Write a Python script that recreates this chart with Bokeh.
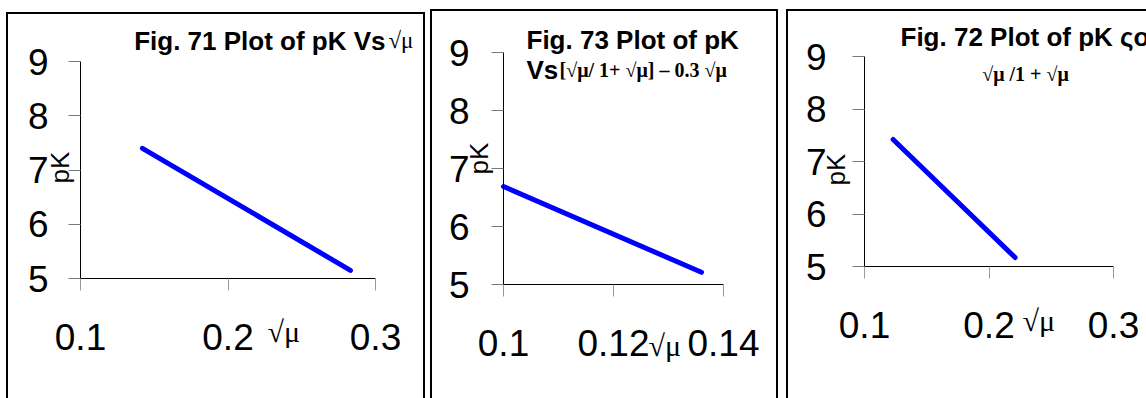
import math
from bokeh.plotting import figure
from bokeh.layouts import row
from bokeh.models import Range1d, Label, FixedTicker
from bokeh.embed import file_html
from bokeh.resources import INLINE

# ---------------- data ----------------
fig71_sqrt_mu = [0.142, 0.283]
fig71_pk = [7.40, 5.15]

fig73_x = [0.100, 0.136]
fig73_pk = [6.69, 5.21]

fig72_x = [0.123, 0.221]
fig72_pk = [7.42, 5.17]

y_ticks = [5, 6, 7, 8, 9]
x_ticks_71 = [0.1, 0.2, 0.3]
x_tick_labels_71 = ["0.1", "0.2", "0.3"]
x_ticks_73 = [0.1, 0.12, 0.14]
x_tick_labels_73 = ["0.1", "0.12", "0.14"]
x_ticks_72 = [0.1, 0.2, 0.3]
x_tick_labels_72 = ["0.1", "0.2", "0.3"]

title_71 = ["Fig. 71 Plot of pK Vs", "\u221a\u03bc"]
title_73 = ["Fig. 73 Plot of pK", "Vs", "[\u221a\u03bc/ 1+ \u221a\u03bc] \u2013 0.3 \u221a\u03bc"]
title_72 = ["Fig. 72 Plot of pK \u03c2\u03bf", "\u221a\u03bc /1 + \u221a\u03bc"]
y_label = "pK"
x_label = "\u221a\u03bc"

SANS = "Liberation Sans"
SERIF = "Liberation Serif"
BASE_SHIFT = 9  # correction for alphabetic baseline placement


def make_panel(geom, xs, ys, xticks, xtick_labels, xr, yr, texts, shadow, ystand):
    # geom: page origin x, y, width, height, axis-box left, right, top, bottom (page px)
    ox, oy, w, h, fl, fr, ft, fb = geom
    kx = (xr[1] - xr[0]) / (fr - fl)
    ky = (yr[1] - yr[0]) / (fb - ft)
    x0 = xr[0] - (fl - ox) * kx
    x1 = xr[1] + (ox + w - fr) * kx
    y1 = yr[1] + (ft - oy) * ky
    y0 = yr[0] - (oy + h - fb) * ky

    p = figure(width=w, height=h, output_backend="svg", toolbar_location=None,
               x_range=Range1d(x0, x1), y_range=Range1d(y0, y1),
               min_border=0, min_border_left=0, min_border_right=0,
               min_border_top=0, min_border_bottom=0,
               background_fill_alpha=0, border_fill_alpha=0,
               outline_line_color=None, frame_align=False)
    p.grid.visible = False

    p.xaxis.ticker = FixedTicker(ticks=xticks)
    p.xaxis.major_label_overrides = {t: s for t, s in zip(xticks, xtick_labels)}
    p.yaxis.ticker = FixedTicker(ticks=y_ticks)
    p.xaxis.fixed_location = yr[0]
    p.yaxis.fixed_location = xr[0]
    p.xaxis.bounds = (xr[0], xr[1])
    p.yaxis.bounds = (yr[0], yr[1])
    for ax in (p.xaxis, p.yaxis):
        ax.axis_line_color = "black"
        ax.axis_line_width = 1
        ax.major_tick_in = 0
        ax.major_tick_out = 12
        ax.minor_tick_line_color = None
        ax.major_label_text_font = SANS
        ax.major_label_text_font_size = "37px"
        ax.major_label_text_color = "black"
    p.xaxis.major_tick_line_color = "#9a9a9a"
    p.yaxis.major_tick_line_color = "#7a7a7a"
    p.xaxis.major_label_standoff = 33
    p.yaxis.major_label_standoff = ystand

    p.line(xs, ys, line_color="#0000ff", line_width=5, line_cap="round")

    def dx(px):
        return xr[0] + (px - fl) * kx

    def dy(py):
        return yr[1] - (py - ft) * ky

    for t in texts:
        base = t.get("baseline", "alphabetic")
        py = t["py"] - (BASE_SHIFT if base == "alphabetic" else 0)
        p.add_layout(Label(x=dx(t["px"]), y=dy(py), text=t["text"],
                           text_font=t.get("font", SANS),
                           text_font_size=t["size"],
                           text_font_style=t.get("style", "normal"),
                           text_align=t.get("align", "left"),
                           text_baseline=base,
                           angle=t.get("angle", 0), text_color="black"))
    p.styles = {"box-shadow": shadow}
    return p


g71 = (6, 12, 419, 386, 80, 375, 61, 278)
g73 = (430, 9, 348, 389, 503, 723, 52, 284)
g72 = (786, 9, 360, 389, 864, 1113, 56, 266)

both = "inset 2px 2px 0 0 #000, inset -2px 0 0 0 #000"
left_top = "inset 2px 2px 0 0 #000"

t71 = [
    dict(text=title_71[0], px=385, py=49, size="26px", style="bold", align="right"),
    dict(text=title_71[1], px=388, py=49, size="23px", font=SERIF),
    dict(text=y_label, px=59, py=167, size="26px", align="center", baseline="middle",
         angle=math.pi / 2),
    dict(text=x_label, px=267, py=340, size="30px", font=SERIF),
]
t73 = [
    dict(text=title_73[0], px=526, py=48, size="26px", style="bold"),
    dict(text=title_73[1], px=526, py=78, size="26px", style="bold"),
    dict(text=title_73[2], px=559, py=78, size="20px", style="bold", font=SERIF),
    dict(text=y_label, px=478, py=158, size="26px", align="center", baseline="middle",
         angle=math.pi / 2),
    dict(text=x_label, px=648, py=354, size="30px", font=SERIF),
]
t72 = [
    dict(text=title_72[0], px=900, py=45, size="26px", style="bold"),
    dict(text=title_72[1], px=1025, py=82, size="20px", style="bold", font=SERIF,
         align="center"),
    dict(text=y_label, px=835, py=169, size="26px", align="center", baseline="middle",
         angle=math.pi / 2),
    dict(text=x_label, px=1022, py=329, size="30px", font=SERIF),
]

p1 = make_panel(g71, fig71_sqrt_mu, fig71_pk, x_ticks_71, x_tick_labels_71,
                (0.1, 0.3), (5, 9), t71, both, 20)
p2 = make_panel(g73, fig73_x, fig73_pk, x_ticks_73, x_tick_labels_73,
                (0.1, 0.14), (5, 9), t73, both, 22)
p3 = make_panel(g72, fig72_x, fig72_pk, x_ticks_72, x_tick_labels_72,
                (0.1, 0.3), (5, 9), t72, left_top, 26)

p1.margin = (12, 0, 0, 6)
p2.margin = (9, 0, 0, 5)
p3.margin = (9, 0, 0, 8)

layout = row(p1, p2, p3, spacing=0)

open("out.html", "w").write(file_html(layout, INLINE))
